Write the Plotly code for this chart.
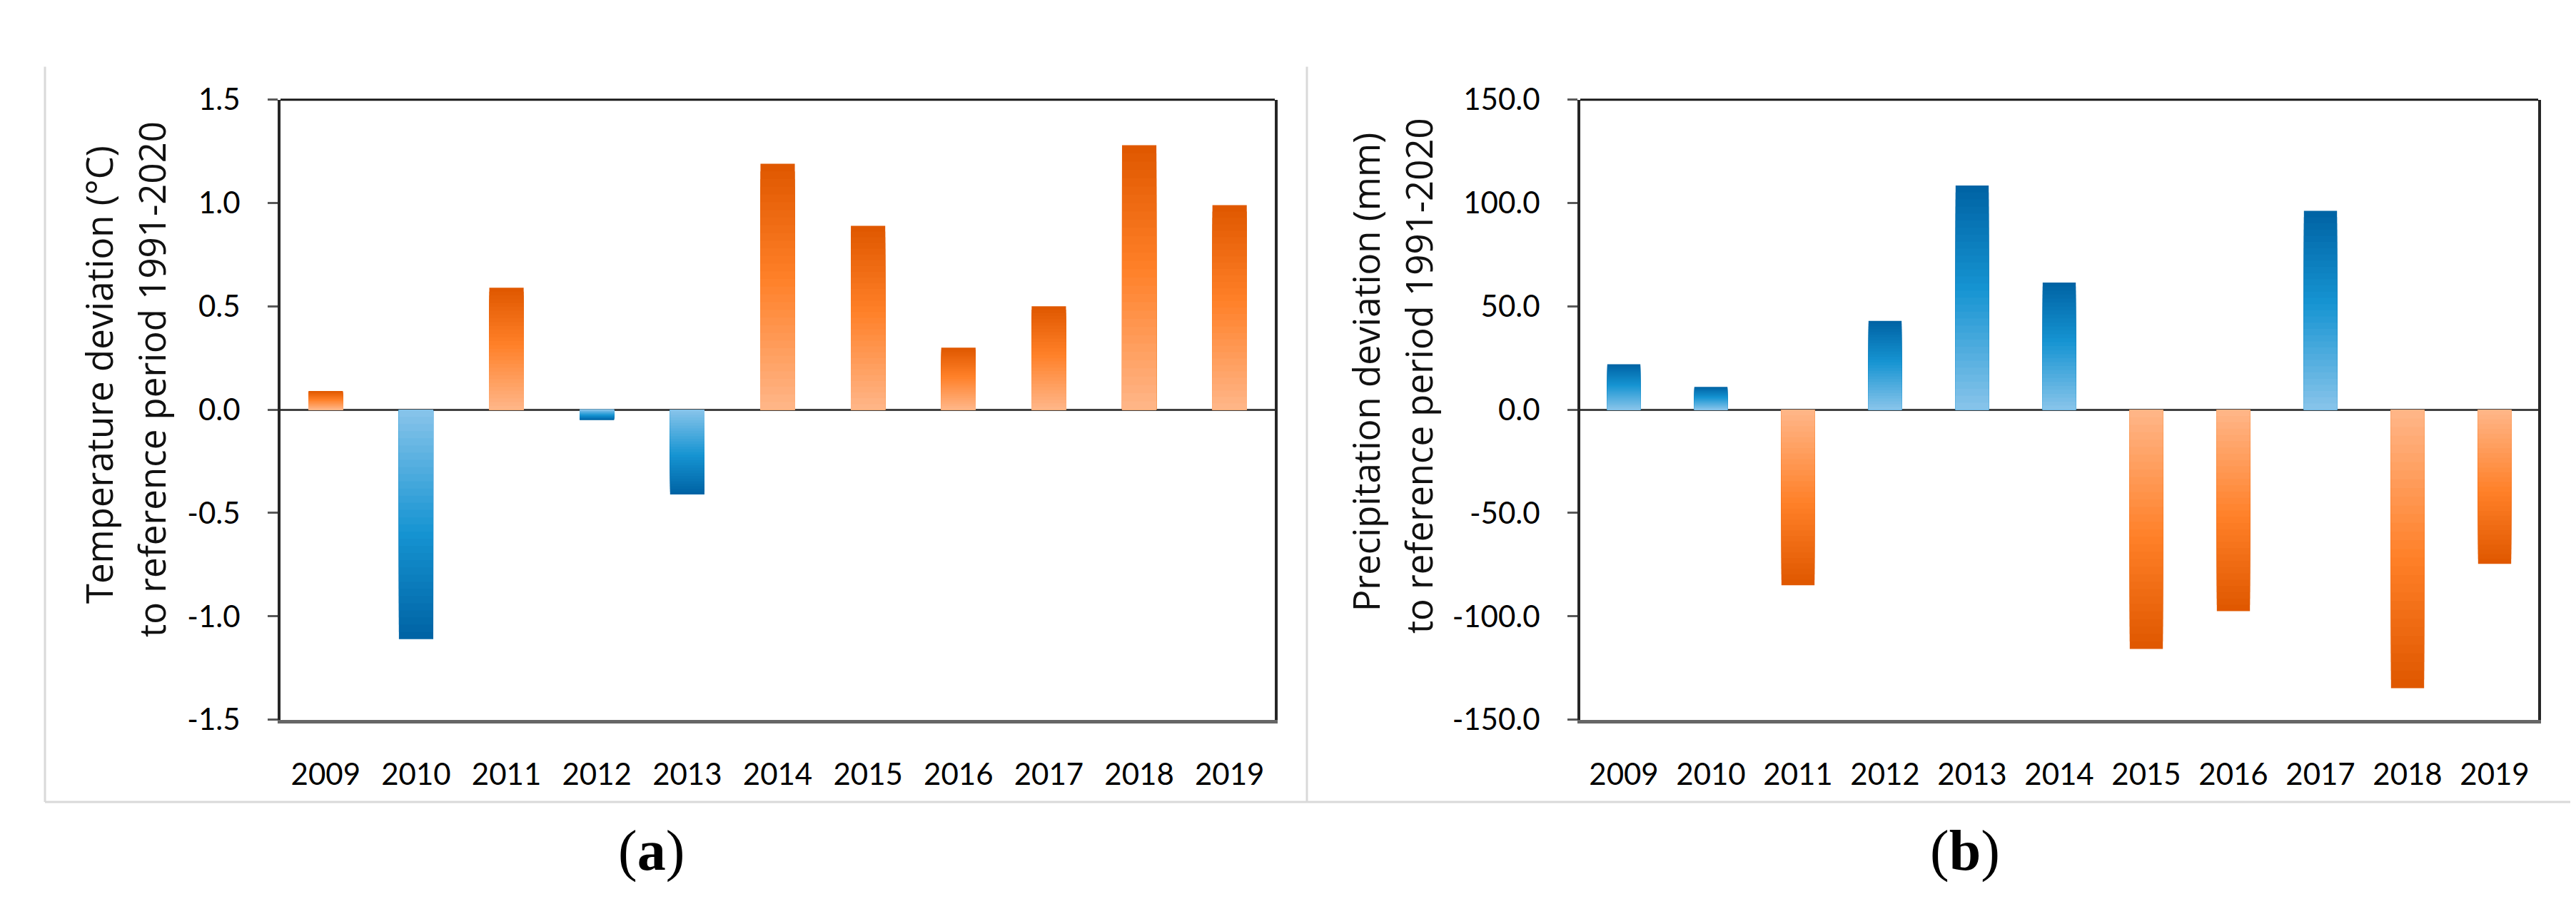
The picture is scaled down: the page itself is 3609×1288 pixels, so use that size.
import plotly.graph_objects as go

# ---------------- data ----------------
years = ["2009", "2010", "2011", "2012", "2013", "2014", "2015", "2016", "2017", "2018", "2019"]
temp_dev = [0.09, -1.11, 0.59, -0.05, -0.41, 1.19, 0.89, 0.30, 0.50, 1.28, 0.99]
precip_dev = [22.0, 11.0, -85.0, 43.0, 108.5, 61.5, -115.8, -97.5, 96.2, -134.8, -74.6]

temp_ticks = [-1.5, -1.0, -0.5, 0.0, 0.5, 1.0, 1.5]
temp_ticktext = ["-1.5", "-1.0", "-0.5", "0.0", "0.5", "1.0", "1.5"]
precip_ticks = [-150, -100, -50, 0, 50, 100, 150]
precip_ticktext = ["-150.0", "-100.0", "-50.0", "0.0", "50.0", "100.0", "150.0"]

temp_title = ["Temperature deviation (°C)", "to reference period 1991-2020"]
precip_title = ["Precipitation deviation (mm)", "to reference period 1991-2020"]
panel_labels = ["(<b>a</b>)", "(<b>b</b>)"]

# ---------------- styling ----------------
W, H = 3609, 1288
ORANGE = [(0.0, (255, 184, 140)), (0.55, (255, 128, 40)), (1.0, (224, 88, 0))]
BLUE = [(0.0, (140, 198, 235)), (0.55, (22, 148, 210)), (1.0, (0, 100, 165))]
TICKFONT = dict(family="Lato, Open Sans, sans-serif", size=42, color="#000000")
TITLEFONT = dict(family="Open Sans, DejaVu Sans, sans-serif", size=51, color="#111111")
NLEV = 32


def grad(stops, f):
    for (p0, c0), (p1, c1) in zip(stops[:-1], stops[1:]):
        if f <= p1:
            t = (f - p0) / (p1 - p0) if p1 > p0 else 0
            c = [round(a + (b - a) * t) for a, b in zip(c0, c1)]
            return "rgb(%d,%d,%d)" % tuple(c)
    return "rgb(%d,%d,%d)" % stops[-1][1]


def px_x(p):
    return p / W


def px_y(p):
    return 1 - p / H


fig = go.Figure()


def add_gradient_bars(values, pos_palette, neg_palette, xa, ya):
    # overlapping bars, longest (darkest) first, so each bar fades from
    # light at the zero line to dark at its end
    for k in range(NLEV):
        f = (NLEV - k) / NLEV
        cols = [grad(pos_palette if v >= 0 else neg_palette, f) for v in values]
        fig.add_trace(go.Bar(
            x=years, y=[v * f for v in values],
            marker=dict(color=cols, line=dict(width=0)),
            xaxis=xa, yaxis=ya, showlegend=False, hoverinfo="skip"))


add_gradient_bars(temp_dev, ORANGE, BLUE, "x", "y")
add_gradient_bars(precip_dev, BLUE, ORANGE, "x2", "y2")

ydom = [px_y(1014), px_y(110)]
zero_pos = (ydom[0] + ydom[1]) / 2
boundaries = [i + 0.5 for i in range(len(years) - 1)]


def xaxis_main(dom, anchor):
    return dict(domain=dom, anchor=anchor, type="category", showline=True,
                linecolor="#666666", linewidth=5, ticks="", showgrid=False,
                zeroline=False, tickfont=TICKFONT, ticklabelstandoff=36,
                fixedrange=True)


def xaxis_ticks(over):
    return dict(overlaying=over, anchor="free", position=zero_pos, type="linear",
                range=[-0.5, len(years) - 0.5], tickvals=boundaries, ticks="outside",
                ticklen=16, tickwidth=3, tickcolor="#333333", showticklabels=False,
                showline=False, showgrid=False, zeroline=False)


def yaxis_main(anchor, rng, tv, tt):
    return dict(domain=ydom, anchor=anchor, range=rng, tickvals=tv, ticktext=tt,
                ticks="outside", ticklen=14, tickwidth=3, tickcolor="#595959",
                showline=True, linecolor="#262626", linewidth=4, mirror=True,
                zeroline=True, zerolinecolor="#404040", zerolinewidth=3,
                showgrid=False, tickfont=TICKFONT, ticklabelstandoff=30,
                fixedrange=True)


xdom_a = [px_x(385), px_x(1778)]
xdom_b = [px_x(2206), px_x(3548)]

fig.update_layout(
    width=W, height=H, margin=dict(l=0, r=0, t=0, b=0),
    paper_bgcolor="white", plot_bgcolor="white",
    barmode="overlay", bargap=0.62,
    xaxis=xaxis_main(xdom_a, "y"),
    xaxis2=xaxis_main(xdom_b, "y2"),
    xaxis3=xaxis_ticks("x"),
    xaxis4=xaxis_ticks("x2"),
    yaxis=yaxis_main("x", [-1.5, 1.5], temp_ticks, temp_ticktext),
    yaxis2=yaxis_main("x2", [-150, 150], precip_ticks, precip_ticktext),
)

# top border of each plot area
for xr, yr in (("x domain", "y domain"), ("x2 domain", "y2 domain")):
    fig.add_shape(type="line", xref=xr, yref=yr, x0=0, x1=1, y0=1, y1=1,
                  line=dict(color="#1a1a1a", width=3))

# light grey frame around the two panels
frame = dict(color="#d9d9d9", width=3)
fig.add_shape(type="line", xref="paper", yref="paper", x0=px_x(55), x1=px_x(55),
              y0=px_y(62), y1=px_y(1134), line=frame)
fig.add_shape(type="line", xref="paper", yref="paper", x0=px_x(1823), x1=px_x(1823),
              y0=px_y(62), y1=px_y(1134), line=frame)
fig.add_shape(type="line", xref="paper", yref="paper", x0=px_x(55), x1=1,
              y0=px_y(1134), y1=px_y(1134), line=frame)

# axis titles (two lines each, rotated)
title_pos = [((130, 511), (204, 518)), ((1905, 507), (1979, 513))]
for lines, poss in zip((temp_title, precip_title), title_pos):
    for txt, (px, py) in zip(lines, poss):
        fig.add_annotation(text=txt, xref="paper", yref="paper", x=px_x(px), y=px_y(py),
                           xanchor="center", yanchor="middle", textangle=-90,
                           showarrow=False, font=TITLEFONT)

# panel labels
for lab, px in zip(panel_labels, (904, 2745)):
    fig.add_annotation(text=lab, xref="paper", yref="paper", x=px_x(px), y=px_y(1205),
                       xanchor="center", yanchor="middle", showarrow=False,
                       font=dict(family="Liberation Serif, DejaVu Serif, serif", size=80,
                                 color="#000000"))

fig.write_html("out.html")
